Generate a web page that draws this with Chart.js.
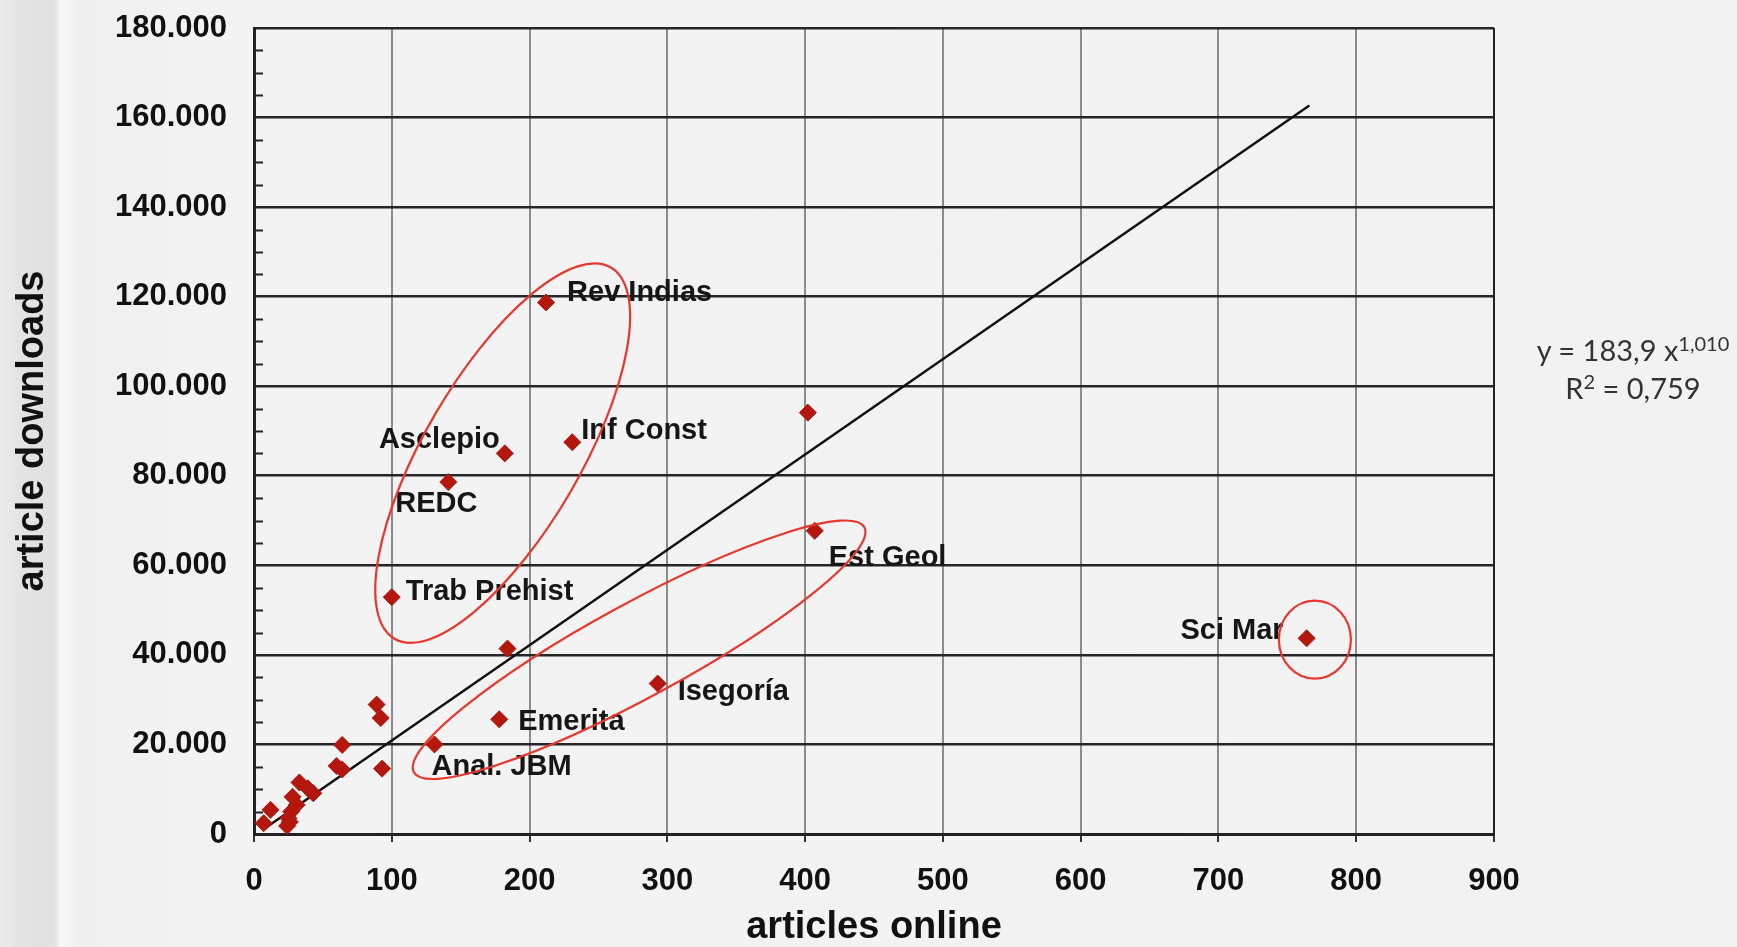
<!DOCTYPE html>
<html>
<head>
<meta charset="utf-8">
<script src="https://cdn.jsdelivr.net/npm/chart.js@4.4.1/dist/chart.umd.min.js"></script>
<style>
    html, body { margin: 0; padding: 0; }
    body {
        width: 1737px;
        height: 947px;
        overflow: hidden;
        position: relative;
        background: linear-gradient(to right, #ebebeb 0px, #e3e3e3 22px, #e1e1e1 54px, #f7f7f7 61px, #efefef 80px, #f3f3f3 220px, #f2f2f2 100%);
    }
    #chart { position: absolute; left: 0; top: 0; }
    #fit {
        position: absolute;
        left: 1483px;
        top: 331px;
        width: 300px;
        text-align: center;
        font-family: Lato, "Open Sans", sans-serif;
        font-size: 29px;
        line-height: 38px;
        color: #333;
    }
    #fit sup { font-size: 20px; vertical-align: 10px; line-height: 0; }
</style>
</head>
<body>
<canvas id="chart" width="1737" height="947"></canvas>
<div id="fit">y = 183,9 x<sup>1,010</sup><br>R<sup>2</sup> = 0,759</div>
<script>
// named journals (labelled on the chart)
const journalNames = ['Rev Indias', 'Asclepio', 'Inf Const', 'REDC', 'Trab Prehist', 'Est Geol', 'Sci Mar', 'Isegoría', 'Emerita', 'Anal. JBM'];
const journalArticles = [212, 182, 231, 141, 100, 407, 764, 293, 178, 131];
const journalDownloads = [118700, 85000, 87500, 78600, 52900, 67700, 43700, 33600, 25600, 20000];

// unlabelled journals
const otherArticles = [402, 184, 89, 92, 93, 64, 60, 64, 33, 39, 43, 28, 31, 27, 12, 25, 7, 24, 26];
const otherDownloads = [94100, 41400, 28900, 25900, 14600, 19900, 15200, 14400, 11500, 10200, 9100, 8300, 6500, 5000, 5400, 3500, 2400, 1800, 2700];

// power trend line, end points as drawn
const trendArticles = [8, 766];
const trendDownloads = [1300, 162700];

// red hand-drawn ellipses: ends of the long axis, in data units
const ellipseFrom = [[102, 43600], [116, 13800], [770, 34700]];
const ellipseTo = [[259, 126500], [443, 68500], [770, 52100]];

const xTicks = {min: 0, max: 900, step: 100};
const yTicks = {min: 0, max: 180000, step: 20000, minorStep: 5000};

const toPoints = (xs, ys) => xs.map((x, i) => ({x: x, y: ys[i]}));

const formatThousands = value => {
    return String(value).replace(/\B(?=(\d{3})+(?!\d))/g, '.');
};

const labelFont = 'bold 29px "Liberation Sans", Arial, Helvetica, sans-serif';
const markerColor = '#b3170e';

// offsets of each journal name from its marker (dx, dy, align)
const labelOffsets = [
    [21, -9, 'left'],
    [-5, -13, 'right'],
    [9, -11, 'left'],
    [-53, 22, 'left'],
    [14, -5, 'left'],
    [14, 27, 'left'],
    [-23, -7, 'right'],
    [20, 8, 'left'],
    [19, 3, 'left'],
    [-3, 23, 'left'],
];
const ellipseHalfWidths = [78, 47, 36];

const annotations = {
    id: 'annotations',
    afterDatasetsDraw(chart) {
        const ctx = chart.ctx;
        const xs = chart.scales.x;
        const ys = chart.scales.y;

        // minor ticks on the inside of the y axis
        ctx.save();
        ctx.strokeStyle = '#222';
        ctx.lineWidth = 2;
        ys.ticks.forEach(t => {
            if (t.value % yTicks.step === 0) {
                return;
            }
            const py = Math.round(ys.getPixelForValue(t.value)) + 0.5;
            ctx.beginPath();
            ctx.moveTo(chart.chartArea.left, py);
            ctx.lineTo(chart.chartArea.left + 9, py);
            ctx.stroke();
        });
        ctx.restore();

        // journal names
        ctx.save();
        ctx.font = labelFont;
        ctx.fillStyle = '#161616';
        ctx.textBaseline = 'middle';
        journalNames.forEach((name, i) => {
            const px = xs.getPixelForValue(journalArticles[i]);
            const py = ys.getPixelForValue(journalDownloads[i]);
            const off = labelOffsets[i];
            ctx.textAlign = off[2];
            ctx.fillText(name, px + off[0], py + off[1]);
        });
        ctx.restore();

        // ellipses
        ctx.save();
        ctx.strokeStyle = '#e8372c';
        ctx.lineWidth = 2.2;
        ellipseFrom.forEach((from, i) => {
            const to = ellipseTo[i];
            const x1 = xs.getPixelForValue(from[0]);
            const y1 = ys.getPixelForValue(from[1]);
            const x2 = xs.getPixelForValue(to[0]);
            const y2 = ys.getPixelForValue(to[1]);
            const cx = (x1 + x2) / 2;
            const cy = (y1 + y2) / 2;
            const a = Math.hypot(x2 - x1, y2 - y1) / 2;
            const angle = Math.atan2(y2 - y1, x2 - x1);
            ctx.beginPath();
            ctx.ellipse(cx, cy, a, ellipseHalfWidths[i], angle, 0, Math.PI * 2);
            ctx.stroke();
        });
        ctx.restore();
    }
};

const tickFont = {family: '"Liberation Sans", Arial, Helvetica, sans-serif', size: 31, weight: 'bold'};
const titleFont = {family: '"Liberation Sans", Arial, Helvetica, sans-serif', size: 38, weight: 'bold', lineHeight: 1};

new Chart(document.getElementById('chart'), {
    type: 'scatter',
    data: {
        datasets: [
            {
                label: 'named',
                data: toPoints(journalArticles, journalDownloads),
                pointStyle: 'rectRot',
                pointRadius: 8.5,
                backgroundColor: markerColor,
                borderColor: markerColor,
                borderWidth: 1,
                order: 1,
            },
            {
                label: 'other',
                data: toPoints(otherArticles, otherDownloads),
                pointStyle: 'rectRot',
                pointRadius: 8.5,
                backgroundColor: markerColor,
                borderColor: markerColor,
                borderWidth: 1,
                order: 2,
            },
            {
                label: 'trend',
                data: toPoints(trendArticles, trendDownloads),
                showLine: true,
                pointRadius: 0,
                borderColor: '#111',
                borderWidth: 2.5,
                order: 3,
            },
        ],
    },
    options: {
        responsive: false,
        animation: false,
        devicePixelRatio: 1,
        layout: {
            padding: {left: 0, right: 243, top: 28, bottom: 0},
        },
        plugins: {
            legend: {display: false},
            tooltip: {enabled: false},
        },
        scales: {
            x: {
                type: 'linear',
                min: xTicks.min,
                max: xTicks.max,
                afterFit: scale => { scale.height = 113; },
                border: {color: '#222', width: 3},
                grid: {
                    color: c => (c.tick && c.tick.value === xTicks.max) ? '#222' : '#8c8c8c',
                    lineWidth: 2,
                    tickLength: 8,
                    tickColor: '#333',
                },
                ticks: {
                    stepSize: xTicks.step,
                    font: tickFont,
                    color: '#111',
                    padding: 21,
                    maxRotation: 0,
                    autoSkip: false,
                },
                title: {
                    display: true,
                    text: 'articles online',
                    font: titleFont,
                    color: '#111',
                    padding: {top: 0, bottom: 0},
                },
            },
            y: {
                type: 'linear',
                min: yTicks.min,
                max: yTicks.max,
                afterFit: scale => { scale.width = 254; },
                border: {color: '#222', width: 3},
                grid: {
                    color: c => (c.tick && c.tick.value % yTicks.step === 0) ? '#262626' : 'rgba(0,0,0,0)',
                    lineWidth: 2.6,
                    // invisible tick marks keep the labels clear of the axis
                    tickLength: 27,
                    tickColor: 'rgba(0,0,0,0)',
                },
                ticks: {
                    stepSize: yTicks.minorStep,
                    font: tickFont,
                    color: '#111',
                    padding: 0,
                    autoSkip: false,
                    callback: value => value % yTicks.step === 0 ? formatThousands(value) : '',
                },
                title: {
                    display: true,
                    text: 'article downloads',
                    font: titleFont,
                    color: '#111',
                    padding: {top: 14, bottom: 0},
                },
            },
        },
    },
    plugins: [annotations],
});
</script>
</body>
</html>
